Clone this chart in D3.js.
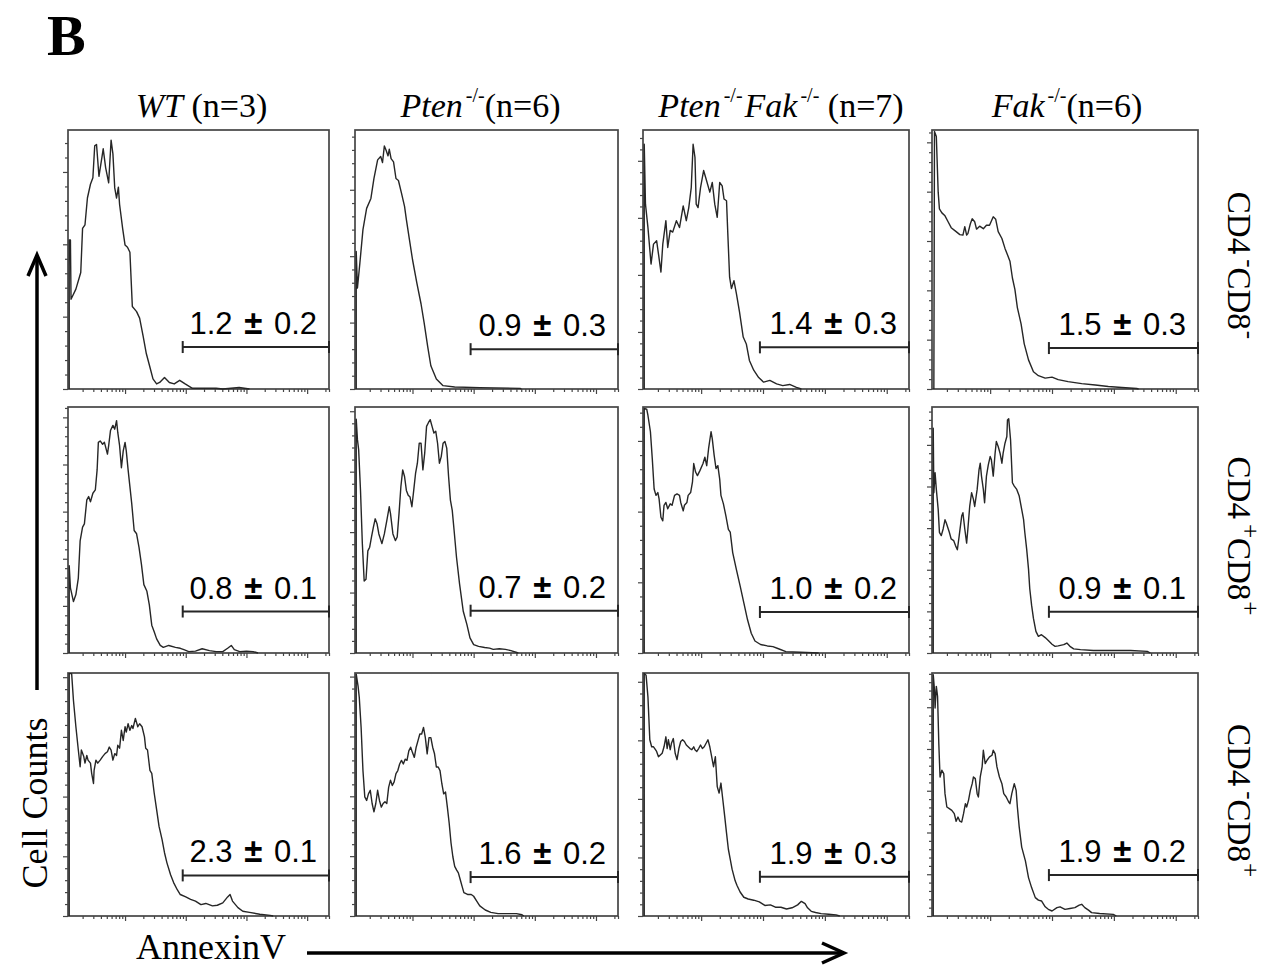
<!DOCTYPE html>
<html><head><meta charset="utf-8">
<script src="https://cdn.jsdelivr.net/npm/d3@7"></script>
<style>body{margin:0;background:#fff} svg{display:block}</style>
</head><body><svg id="c" width="1271" height="969"></svg>
<script>
// ---------------- DATA ----------------
// Column genotypes and sample sizes
const genotypes = [
  [{t:"WT",i:true}],
  [{t:"Pten",i:true},{t:"-/-",sup:true}],
  [{t:"Pten",i:true},{t:"-/-",sup:true},{t:"Fak",i:true},{t:"-/-",sup:true}],
  [{t:"Fak",i:true},{t:"-/-",sup:true}]
];
const nValues = [3, 6, 7, 6];
// Row populations: CD4 sign, CD8 sign
const populations = [["-","-"],["+","+"],["-","+"]];
// Gate percentages (mean ± sd), rows x columns
const gateMeans = [["1.2","0.9","1.4","1.5"],["0.8","0.7","1.0","0.9"],["2.3","1.6","1.9","1.9"]];
const gateSDs   = [["0.2","0.3","0.3","0.3"],["0.1","0.2","0.2","0.1"],["0.1","0.2","0.3","0.2"]];
// Gate start (log10 AnnexinV) and gate marker level (counts)
const gateStart = 1.95;
const gateLevels = [[58,60,73,83],[88,70,58,99],[68,65,67,98]];
// Y axis maximum (counts) for each histogram
const yMaxes = [[358,390,454,525],[522,407,348,591],[407,406,415,582]];
// x axis: log10 AnnexinV intensity
const xDomain = [0.06, 4.36];
const decades = [0,1,2,3,4];

// Histograms: [log10 AnnexinV, cell count]
const wt_dn = [[0.08,0],[0.08,206],[0.10,206],[0.11,124],[0.19,138],[0.27,161],[0.30,222],[0.34,227],[0.38,264],[0.43,283],[0.47,292],[0.50,336],[0.53,338],[0.57,294],[0.62,321],[0.64,332],[0.68,306],[0.73,285],[0.77,344],[0.80,325],[0.83,278],[0.86,264],[0.89,279],[0.91,255],[0.96,222],[1.00,199],[1.04,196],[1.08,189],[1.12,114],[1.19,107],[1.24,98],[1.30,72],[1.35,49],[1.41,30],[1.46,14],[1.52,7],[1.57,9],[1.65,16],[1.73,9],[1.81,7],[1.90,12],[1.99,7],[2.11,1],[2.50,1],[2.61,0],[2.88,2],[3.05,0]];
const pten_dn = [[0.08,0],[0.08,207],[0.10,152],[0.14,190],[0.19,240],[0.25,272],[0.32,287],[0.37,317],[0.43,345],[0.48,350],[0.51,341],[0.54,366],[0.57,359],[0.60,351],[0.62,361],[0.65,347],[0.69,342],[0.73,317],[0.77,314],[0.82,295],[0.87,275],[0.90,255],[0.95,225],[1.00,195],[1.07,160],[1.14,128],[1.19,100],[1.25,63],[1.30,35],[1.39,15],[1.50,5],[1.69,3],[2.10,2],[2.76,1],[2.78,0]];
const dko_dn = [[0.08,0],[0.08,429],[0.10,324],[0.14,283],[0.19,219],[0.23,254],[0.28,260],[0.31,237],[0.35,205],[0.38,254],[0.43,295],[0.46,248],[0.50,278],[0.54,275],[0.60,295],[0.65,283],[0.71,321],[0.76,295],[0.80,318],[0.84,353],[0.87,429],[0.90,406],[0.92,324],[0.95,318],[0.99,353],[1.04,383],[1.08,368],[1.14,345],[1.18,362],[1.22,324],[1.26,301],[1.30,362],[1.34,356],[1.37,333],[1.41,330],[1.43,275],[1.46,196],[1.49,176],[1.53,190],[1.57,167],[1.62,135],[1.68,91],[1.73,79],[1.78,50],[1.85,33],[1.93,20],[2.01,12],[2.11,15],[2.22,9],[2.32,6],[2.43,8],[2.54,3],[2.62,0]];
const fak_dn = [[0.09,0],[0.10,522],[0.13,512],[0.16,399],[0.18,365],[0.22,357],[0.27,351],[0.32,339],[0.37,327],[0.44,320],[0.51,313],[0.56,312],[0.59,329],[0.62,312],[0.64,315],[0.68,335],[0.71,345],[0.75,339],[0.78,324],[0.83,330],[0.89,325],[0.94,332],[0.99,332],[1.05,349],[1.09,344],[1.13,319],[1.19,305],[1.24,285],[1.28,272],[1.32,259],[1.36,225],[1.40,202],[1.44,165],[1.50,132],[1.55,92],[1.62,59],[1.70,35],[1.78,27],[1.89,22],[2.00,24],[2.10,19],[2.26,15],[2.48,11],[2.70,8],[2.91,5],[3.13,3],[3.37,1],[3.40,0]];

const wt_dp = [[0.08,0],[0.08,185],[0.10,138],[0.15,109],[0.19,124],[0.23,159],[0.26,238],[0.30,267],[0.33,274],[0.37,325],[0.40,332],[0.43,321],[0.47,339],[0.51,346],[0.54,389],[0.56,447],[0.59,450],[0.63,443],[0.66,447],[0.71,422],[0.73,440],[0.76,472],[0.80,483],[0.83,475],[0.86,493],[0.88,468],[0.91,440],[0.94,393],[0.97,429],[1.00,447],[1.02,429],[1.05,389],[1.08,353],[1.11,317],[1.15,260],[1.19,253],[1.23,224],[1.27,188],[1.31,145],[1.36,131],[1.40,102],[1.44,59],[1.48,45],[1.52,30],[1.58,16],[1.63,12],[1.72,16],[1.83,12],[1.91,10],[1.97,7],[2.05,3],[2.16,4],[2.27,9],[2.39,5],[2.50,3],[2.61,3],[2.69,10],[2.75,16],[2.80,7],[2.89,3],[3.00,4],[3.11,3],[3.19,0]];
const pten_dp = [[0.08,0],[0.08,387],[0.10,353],[0.12,336],[0.15,269],[0.18,181],[0.21,119],[0.24,122],[0.27,169],[0.30,175],[0.33,192],[0.36,208],[0.39,222],[0.42,214],[0.45,197],[0.50,181],[0.54,197],[0.58,219],[0.62,242],[0.64,231],[0.68,197],[0.72,186],[0.75,192],[0.78,231],[0.81,275],[0.84,303],[0.87,292],[0.90,269],[0.93,261],[0.96,258],[0.99,242],[1.02,269],[1.05,297],[1.08,314],[1.11,347],[1.14,347],[1.17,303],[1.20,331],[1.23,375],[1.26,381],[1.29,386],[1.32,375],[1.35,364],[1.38,367],[1.41,347],[1.44,314],[1.47,325],[1.50,347],[1.53,350],[1.56,339],[1.59,292],[1.62,253],[1.65,236],[1.68,203],[1.72,158],[1.77,114],[1.83,69],[1.89,47],[1.94,25],[2.00,14],[2.08,11],[2.18,9],[2.26,8],[2.32,6],[2.42,7],[2.52,6],[2.61,4],[2.73,0]];
const dko_dp = [[0.08,0],[0.08,346],[0.12,345],[0.14,336],[0.18,313],[0.21,275],[0.24,232],[0.27,223],[0.30,227],[0.32,218],[0.35,192],[0.38,187],[0.40,209],[0.43,213],[0.46,204],[0.50,211],[0.53,209],[0.57,223],[0.61,225],[0.65,223],[0.67,213],[0.71,201],[0.73,209],[0.77,213],[0.79,223],[0.83,227],[0.86,242],[0.88,268],[0.91,256],[0.94,251],[0.98,258],[1.03,268],[1.06,277],[1.09,265],[1.12,289],[1.16,313],[1.18,303],[1.21,280],[1.24,261],[1.27,265],[1.30,246],[1.32,223],[1.36,211],[1.40,194],[1.44,175],[1.47,171],[1.51,142],[1.57,118],[1.63,95],[1.69,71],[1.75,47],[1.81,28],[1.87,17],[1.96,12],[2.07,10],[2.16,9],[2.25,6],[2.37,2],[2.60,1],[2.90,0]];
const fak_dp = [[0.08,0],[0.08,540],[0.09,385],[0.11,433],[0.13,393],[0.16,345],[0.18,290],[0.21,282],[0.24,298],[0.27,320],[0.29,313],[0.34,290],[0.37,274],[0.41,270],[0.44,258],[0.47,248],[0.50,282],[0.54,329],[0.56,337],[0.59,298],[0.62,264],[0.64,298],[0.67,353],[0.70,385],[0.73,369],[0.75,352],[0.79,393],[0.82,440],[0.84,456],[0.86,425],[0.89,393],[0.91,361],[0.94,425],[0.97,452],[1.00,472],[1.02,464],[1.05,425],[1.08,480],[1.10,508],[1.13,496],[1.16,480],[1.19,456],[1.21,480],[1.24,504],[1.27,520],[1.28,560],[1.30,563],[1.33,512],[1.36,409],[1.39,401],[1.43,393],[1.47,377],[1.51,345],[1.54,321],[1.56,290],[1.59,250],[1.62,202],[1.64,155],[1.67,115],[1.70,83],[1.74,52],[1.78,40],[1.83,44],[1.89,37],[1.94,30],[2.00,21],[2.05,16],[2.10,17],[2.19,20],[2.24,24],[2.29,16],[2.35,10],[2.46,8],[2.67,6],[3.00,6],[3.27,6],[3.54,4],[3.59,0]];

const wt_cd8 = [[0.08,0],[0.08,406],[0.12,406],[0.15,361],[0.19,317],[0.23,278],[0.26,250],[0.28,278],[0.32,267],[0.34,256],[0.37,269],[0.39,261],[0.43,256],[0.45,239],[0.48,222],[0.49,244],[0.52,261],[0.55,256],[0.59,261],[0.63,267],[0.67,272],[0.71,275],[0.74,283],[0.77,278],[0.80,261],[0.83,272],[0.86,269],[0.88,286],[0.91,281],[0.94,311],[0.97,294],[1.00,317],[1.02,308],[1.05,322],[1.08,311],[1.11,319],[1.13,314],[1.17,331],[1.21,317],[1.24,322],[1.28,317],[1.32,300],[1.34,281],[1.37,278],[1.41,244],[1.44,239],[1.48,206],[1.52,178],[1.56,150],[1.61,128],[1.65,106],[1.69,89],[1.75,69],[1.80,56],[1.86,44],[1.91,36],[2.00,32],[2.08,28],[2.16,25],[2.25,19],[2.33,21],[2.44,17],[2.52,18],[2.61,22],[2.69,32],[2.73,36],[2.77,25],[2.86,14],[2.94,8],[3.05,6],[3.22,3],[3.39,1],[3.44,0]];
const pten_cd8 = [[0.08,0],[0.08,404],[0.11,384],[0.13,365],[0.16,315],[0.19,243],[0.22,199],[0.25,193],[0.28,204],[0.31,210],[0.34,188],[0.37,174],[0.40,188],[0.43,210],[0.46,193],[0.49,182],[0.52,188],[0.55,191],[0.58,188],[0.61,215],[0.64,227],[0.67,218],[0.70,224],[0.73,238],[0.76,243],[0.79,254],[0.82,260],[0.85,254],[0.88,262],[0.91,260],[0.94,276],[0.97,282],[1.00,273],[1.03,265],[1.06,282],[1.09,293],[1.12,304],[1.15,304],[1.18,315],[1.21,298],[1.24,271],[1.27,298],[1.30,298],[1.33,282],[1.36,271],[1.39,249],[1.42,249],[1.45,243],[1.48,221],[1.51,204],[1.54,207],[1.57,182],[1.60,155],[1.63,122],[1.66,99],[1.69,83],[1.72,77],[1.75,72],[1.78,61],[1.81,50],[1.84,39],[1.90,36],[1.96,36],[2.00,33],[2.05,25],[2.10,17],[2.19,10],[2.28,6],[2.40,4],[2.58,4],[2.70,4],[2.79,2],[2.82,0]];
const dko_cd8 = [[0.08,0],[0.08,414],[0.11,411],[0.14,374],[0.17,301],[0.20,289],[0.23,289],[0.25,286],[0.28,281],[0.31,272],[0.34,275],[0.37,278],[0.40,289],[0.43,306],[0.45,286],[0.47,301],[0.50,284],[0.52,295],[0.55,303],[0.58,278],[0.61,267],[0.64,286],[0.67,298],[0.70,301],[0.73,298],[0.76,292],[0.79,289],[0.82,286],[0.85,284],[0.88,289],[0.90,284],[0.93,281],[0.96,286],[0.99,292],[1.02,286],[1.05,289],[1.08,295],[1.11,301],[1.14,289],[1.17,272],[1.20,255],[1.23,272],[1.26,221],[1.29,210],[1.32,227],[1.35,199],[1.38,171],[1.41,142],[1.44,114],[1.47,97],[1.50,80],[1.52,72],[1.55,60],[1.58,52],[1.63,41],[1.69,32],[1.76,29],[1.85,27],[1.94,24],[2.03,18],[2.12,19],[2.20,15],[2.29,15],[2.38,12],[2.47,14],[2.56,19],[2.62,25],[2.68,21],[2.72,14],[2.78,8],[2.85,6],[2.94,4],[3.06,3],[3.18,2],[3.24,0]];
const fak_cd8 = [[0.08,0],[0.08,578],[0.10,542],[0.11,498],[0.13,550],[0.15,526],[0.17,413],[0.19,333],[0.22,349],[0.25,341],[0.27,293],[0.30,261],[0.34,257],[0.38,253],[0.42,245],[0.45,227],[0.48,237],[0.51,227],[0.54,225],[0.57,245],[0.60,269],[0.62,261],[0.65,277],[0.68,301],[0.71,317],[0.73,333],[0.76,329],[0.79,293],[0.81,285],[0.84,333],[0.87,357],[0.89,397],[0.92,365],[0.95,373],[0.99,381],[1.03,385],[1.05,397],[1.08,389],[1.11,357],[1.15,333],[1.19,317],[1.22,293],[1.26,285],[1.30,273],[1.32,269],[1.35,293],[1.39,317],[1.42,301],[1.44,261],[1.47,213],[1.51,165],[1.57,132],[1.62,92],[1.67,68],[1.73,44],[1.78,38],[1.83,36],[1.89,22],[1.94,16],[2.00,12],[2.08,20],[2.13,22],[2.21,16],[2.29,18],[2.37,20],[2.44,26],[2.48,28],[2.53,20],[2.59,14],[2.64,8],[2.77,6],[2.99,4],[3.04,0]];

const histograms = [
  [wt_dn, pten_dn, dko_dn, fak_dn],
  [wt_dp, pten_dp, dko_dp, fak_dp],
  [wt_cd8, pten_cd8, dko_cd8, fak_cd8]
];

// ---------------- LAYOUT ----------------
const colLeft  = [68, 355, 643, 932];
const colRight = [329, 618, 909, 1198];
const rowTop    = [130, 407, 673];
const rowBottom = [389, 653, 916];
const titleShift = [3, -6, 5, 2];
const ink = "#262626", frame = "#454545";
const serif = "'Liberation Serif','Times New Roman',serif";
const sans  = "'Liberation Sans',Arial,sans-serif";

const svg = d3.select("#c");

// Log tick positions
const minorX = [], majorX = [];
decades.forEach(d => {
  for (let m = 1; m <= 9; m++) {
    const v = d + Math.log10(m);
    if (v < xDomain[0] || v > xDomain[1]) continue;
    (m === 1 ? majorX : minorX).push(v);
  }
});
minorX.push(xDomain[1]);

const line = d3.line();

histograms.forEach((row, r) => {
  row.forEach((hist, c) => {
    const x = d3.scaleLinear().domain(xDomain).range([colLeft[c], colRight[c]]);
    const y = d3.scaleLinear().domain([0, yMaxes[r][c]]).range([rowBottom[r], rowTop[r]]);
    const g = svg.append("g");

    // y ticks
    const yMinor = d3.range(0, yMaxes[r][c] + 0.1, 20).filter(v => v % 100 !== 0);
    const yMajor = d3.range(0, yMaxes[r][c] + 0.1, 100);
    const ya1 = g.append("g").attr("transform", `translate(${colLeft[c]},0)`)
      .call(d3.axisLeft(y).tickValues(yMinor).tickSize(3).tickFormat(""));
    const ya2 = g.append("g").attr("transform", `translate(${colLeft[c]},0)`)
      .call(d3.axisLeft(y).tickValues(yMajor).tickSize(5).tickFormat(""));
    // x ticks
    const xa1 = g.append("g").attr("transform", `translate(0,${rowBottom[r]})`)
      .call(d3.axisBottom(x).tickValues(minorX).tickSize(3).tickFormat(""));
    const xa2 = g.append("g").attr("transform", `translate(0,${rowBottom[r]})`)
      .call(d3.axisBottom(x).tickValues(majorX).tickSize(5).tickFormat(""));
    [ya1, ya2, xa1, xa2].forEach(a => {
      a.select(".domain").remove();
      a.selectAll("line").attr("stroke", frame).attr("stroke-width", 1.2);
    });

    // frame
    g.append("rect")
      .attr("x", colLeft[c]).attr("y", rowTop[r])
      .attr("width", colRight[c] - colLeft[c]).attr("height", rowBottom[r] - rowTop[r])
      .attr("fill", "none").attr("stroke", frame).attr("stroke-width", 1.7);

    // histogram
    g.append("path")
      .attr("d", line(hist.map(p => [x(p[0]), y(p[1])])))
      .attr("fill", "none").attr("stroke", ink).attr("stroke-width", 1.4)
      .attr("stroke-linejoin", "round");

    // gate
    const gy = y(gateLevels[r][c]);
    const gx0 = x(gateStart), gx1 = x(xDomain[1]);
    g.append("line").attr("x1", gx0).attr("x2", gx1).attr("y1", gy).attr("y2", gy)
      .attr("stroke", ink).attr("stroke-width", 2);
    [gx0, gx1].forEach(v => g.append("line").attr("x1", v).attr("x2", v)
      .attr("y1", gy - 6).attr("y2", gy + 6).attr("stroke", ink).attr("stroke-width", 2));

    const t = g.append("text").attr("x", colRight[c] - 12).attr("y", gy - 13)
      .attr("text-anchor", "end").attr("font-family", sans).attr("font-size", 31).attr("fill", "#000");
    t.append("tspan").text(gateMeans[r][c] + " ");
    t.append("tspan").attr("font-weight", "bold").attr("font-size", 33).attr("dx", 3).text("±");
    t.append("tspan").attr("dx", 3).text(" " + gateSDs[r][c]);
  });
});

// Column titles
genotypes.forEach((parts, c) => {
  const cx = (colLeft[c] + colRight[c]) / 2 + titleShift[c];
  const t = svg.append("text").attr("x", cx).attr("y", 117)
    .attr("text-anchor", "middle").attr("font-family", serif).attr("font-size", 34).attr("fill", "#000");
  let raised = false;
  parts.forEach((p, i) => {
    const s = t.append("tspan").text(p.t);
    if (p.i) s.attr("font-style", "italic");
    if (p.sup) { s.attr("font-size", 20).attr("dy", -15).attr("dx", 3); raised = true; }
    else if (raised) { s.attr("dy", 15).attr("dx", 2); raised = false; }
  });
  const s = t.append("tspan").text((c === 0 || c === 2 ? " " : "") + "(n=" + nValues[c] + ")");
  if (raised) s.attr("dy", 15);
});

// Row labels (rotated)
populations.forEach((pop, r) => {
  const cy = (rowTop[r] + rowBottom[r]) / 2 + 6;
  const t = svg.append("text").attr("transform", `translate(1228,${cy}) rotate(90)`)
    .attr("text-anchor", "middle").attr("font-family", serif).attr("font-size", 33).attr("fill", "#000");
  t.append("tspan").text("CD4");
  t.append("tspan").attr("font-size", 25).attr("dy", -14).attr("dx", 5).text(pop[0]);
  t.append("tspan").attr("dy", 14).text("CD8");
  t.append("tspan").attr("font-size", 25).attr("dy", -14).attr("dx", 1).text(pop[1]);
});

// Panel letter
svg.append("text").attr("x", 47).attr("y", 55).attr("font-family", serif)
  .attr("font-weight", "bold").attr("font-size", 58).attr("fill", "#000").text("B");

// Axis labels and arrows
svg.append("text").attr("transform", "translate(47,803) rotate(-90)")
  .attr("text-anchor", "middle").attr("font-family", serif).attr("font-size", 36).attr("fill", "#000")
  .text("Cell Counts");
svg.append("line").attr("x1", 37).attr("x2", 37).attr("y1", 690).attr("y2", 256)
  .attr("stroke", "#000").attr("stroke-width", 3.5);
svg.append("polyline").attr("points", "28,276 37,255 46,276")
  .attr("fill", "none").attr("stroke", "#000").attr("stroke-width", 3.5);

svg.append("text").attr("x", 136).attr("y", 959).attr("font-family", serif)
  .attr("font-size", 36).attr("fill", "#000").text("AnnexinV");
svg.append("line").attr("x1", 307).attr("x2", 843).attr("y1", 953).attr("y2", 953)
  .attr("stroke", "#000").attr("stroke-width", 3.5);
svg.append("polyline").attr("points", "822,943 844,953 822,963")
  .attr("fill", "none").attr("stroke", "#000").attr("stroke-width", 3.5);
</script></body></html>
